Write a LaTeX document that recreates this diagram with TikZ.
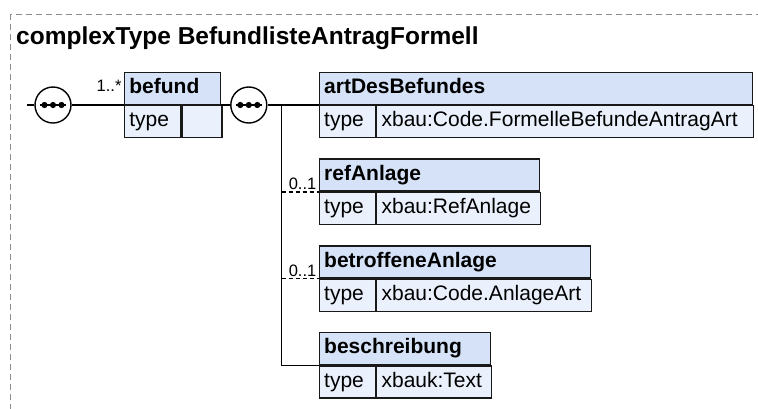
\documentclass[tikz,border=0pt]{standalone}
\usepackage{fontspec}
\setmainfont{Liberation Sans}
\usetikzlibrary{positioning}
\definecolor{headblue}{RGB}{213,226,247}
\definecolor{cellblue}{RGB}{234,241,252}
\definecolor{framegray}{RGB}{140,140,140}
\tikzset{
  title_text/.style={font=\fontsize{24.5}{29}\selectfont\bfseries, inner sep=0pt},
  elem_head/.style={rectangle, draw=black!90, fill=headblue, line width=1.4pt, minimum height=32pt, inner xsep=5pt, inner ysep=0pt, text height=15pt, text depth=4.5pt, align=left, font=\fontsize{21}{25}\selectfont\bfseries},
  elem_cell/.style={rectangle, draw=black!90, fill=cellblue, line width=1.4pt, minimum height=32pt, inner xsep=5pt, inner ysep=0pt, text height=15pt, text depth=4.5pt, align=left, font=\fontsize{21}{25}\selectfont},
  seq_node/.style={circle, draw=black, fill=white, line width=1.4pt, minimum size=36pt, inner sep=0pt,
    path picture={
      \draw[black, line width=1.6pt] ([xshift=-13pt]path picture bounding box.center) -- ([xshift=13pt]path picture bounding box.center);
      \foreach \dx in {-8.5,0,8.5}
        \fill[black] ([xshift=\dx pt]path picture bounding box.center) circle (3.1pt);
    }},
  occ_label/.style={font=\fontsize{16.5}{20}\selectfont, inner sep=0pt},
  conn_line/.style={-, line width=1.4pt, black},
  opt_line/.style={-, line width=1.4pt, black, dash pattern=on 4pt off 3pt},
  frame_line/.style={line width=1pt, framegray, dash pattern=on 6pt off 4pt}
}

\begin{document}
\begin{tikzpicture}[x=1pt, y=-1pt]
  \clip (0,0) rectangle (758,408);
  \draw[frame_line] (10,14) rectangle (790,440);
  \node (title) [title_text, anchor=base west] at (16,44) {complexType BefundlisteAntragFormell};

  % Sequence and befund
  \coordinate (start) at (27,105);
  \node (s1) [seq_node] at (53,105) {};
  \node (befund) [elem_head, text width=86pt, above right=0pt and 52pt of s1.east] {befund};
  \node (befund_t) [elem_cell, text width=46pt, below right=0pt and 0pt of befund.south west] {type};
  \node (befund_v) [elem_cell, text width=30pt, right=0pt of befund_t] {};
  \node (s2) [seq_node, right=9pt of befund.south east] {};
  \coordinate (br) at ([xshift=14pt]s2.east);

  % Children
  \node (art) [elem_head, text width=423pt, above right=0pt and 51pt of s2.east] {artDesBefundes};
  \node (art_t) [elem_cell, text width=46pt, below right=0pt and 0pt of art.south west] {type};
  \node (art_v) [elem_cell, text width=367pt, right=0pt of art_t] {xbau:Code.FormelleBefundeAntragArt};

  \node (ref) [elem_head, text width=210pt, below right=20pt and 0pt of art_t.south west] {refAnlage};
  \node (ref_t) [elem_cell, text width=46pt, below right=0pt and 0pt of ref.south west] {type};
  \node (ref_v) [elem_cell, text width=154pt, right=0pt of ref_t] {xbau:RefAnlage};

  \node (betr) [elem_head, text width=261pt, below right=20pt and 0pt of ref_t.south west] {betroffeneAnlage};
  \node (betr_t) [elem_cell, text width=46pt, below right=0pt and 0pt of betr.south west] {type};
  \node (betr_v) [elem_cell, text width=205pt, right=0pt of betr_t] {xbau:Code.AnlageArt};

  \node (besch) [elem_head, text width=161pt, below right=20pt and 0pt of betr_t.south west] {beschreibung};
  \node (besch_t) [elem_cell, text width=46pt, below right=0pt and 0pt of besch.south west] {type};
  \node (besch_v) [elem_cell, text width=105pt, right=0pt of besch_t] {xbauk:Text};

  % Connections
  \draw [conn_line] (start) -- (s1);
  \draw [conn_line] (s1) -- (befund.south west);
  \draw [conn_line] (befund.south east) -- (s2);
  \draw [conn_line] (s2) -- (art.south west);
  \draw [conn_line] (br) |- (besch.south west);
  \draw [opt_line] (br |- ref.south west) -- (ref.south west);
  \draw [opt_line] (br |- betr.south west) -- (betr.south west);

  % Occurrences
  \node (occ_befund) [occ_label, anchor=base east] at ([xshift=-2pt, yshift=14pt]befund.south west) {1..*};
  \node (occ_ref) [occ_label, anchor=base east] at ([xshift=-2pt, yshift=2pt]ref.south west) {0..1};
  \node (occ_betr) [occ_label, anchor=base east] at ([xshift=-2pt, yshift=2pt]betr.south west) {0..1};
\end{tikzpicture}
\end{document}
